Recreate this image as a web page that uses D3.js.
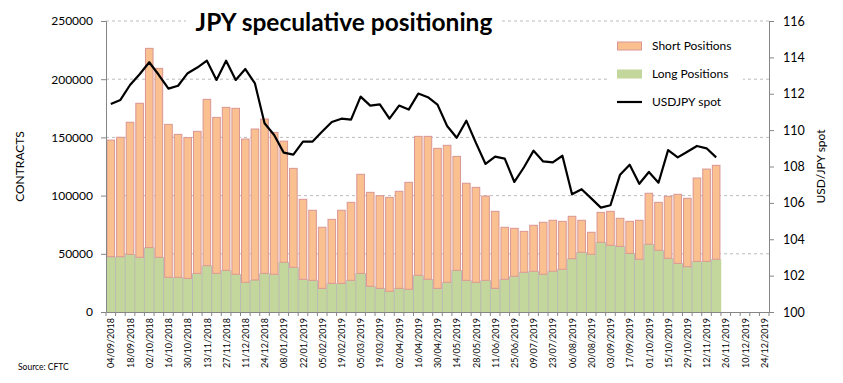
<!DOCTYPE html>
<html>
<head>
<meta charset="utf-8">
<script src="https://cdn.jsdelivr.net/npm/d3@7"></script>
<style>
  body { margin: 0; background: #fff; }
  text { font-family: Lato, "Open Sans", sans-serif; }
</style>
</head>
<body>
<div id="chart"></div>
<script>
// CONSTANTS
const width = 843, height = 383;
const margin = { top: 21, right: 74, bottom: 71, left: 106 };

// DATA - weekly COT report dates (axis runs to end of 2019)
const dates = [
  "04/09/2018","11/09/2018","18/09/2018","25/09/2018","02/10/2018","09/10/2018","16/10/2018","23/10/2018",
  "30/10/2018","06/11/2018","13/11/2018","20/11/2018","27/11/2018","04/12/2018","11/12/2018","18/12/2018",
  "24/12/2018","31/12/2018","08/01/2019","15/01/2019","22/01/2019","29/01/2019","05/02/2019","12/02/2019",
  "19/02/2019","26/02/2019","05/03/2019","12/03/2019","19/03/2019","26/03/2019","02/04/2019","09/04/2019",
  "16/04/2019","23/04/2019","30/04/2019","07/05/2019","14/05/2019","21/05/2019","28/05/2019","04/06/2019",
  "11/06/2019","18/06/2019","25/06/2019","02/07/2019","09/07/2019","16/07/2019","23/07/2019","30/07/2019",
  "06/08/2019","13/08/2019","20/08/2019","27/08/2019","03/09/2019","10/09/2019","17/09/2019","24/09/2019",
  "01/10/2019","08/10/2019","15/10/2019","22/10/2019","29/10/2019","05/11/2019","12/11/2019","19/11/2019",
  "26/11/2019","03/12/2019","10/12/2019","17/12/2019","24/12/2019"
];

const longPositions = [
  47500,47500,49500,47000,55300,47000,29800,29800,28900,33200,39800,33200,35800,32400,25500,27500,
  33200,32400,42700,38400,28100,27200,20300,24600,24600,27200,33200,22100,20300,17800,20300,19500,
  31500,28100,20300,25500,35800,27200,25500,27200,20300,28100,30700,34100,35000,32400,35000,36700,
  45800,51300,49600,59900,57300,56400,50400,45300,58200,53000,46100,41800,38900,43500,43500,45300
];

const shortPositions = [
  100200,102600,113500,132300,171200,162300,131400,122800,120900,122000,142900,134000,140000,142600,123100,129700,
  132600,121900,104100,85000,68700,60200,52500,55000,62800,67000,85100,80700,79600,80700,83400,91900,
  119400,122800,120300,117700,97900,83400,81600,72400,66200,44700,41200,35200,39500,44700,43800,41200,
  36400,27500,18900,25700,29200,24100,27500,33500,43800,41200,53300,59300,58800,71600,79300,80700
];

const usdjpySpot = [
  111.44,111.66,112.48,113.07,113.73,113.03,112.28,112.44,113.13,113.44,113.82,112.76,113.82,112.76,113.36,112.57,
  110.38,109.73,108.76,108.65,109.37,109.37,109.92,110.45,110.63,110.58,111.84,111.35,111.42,110.63,111.35,111.13,
  112.01,111.81,111.40,110.23,109.58,110.52,109.30,108.14,108.54,108.43,107.15,107.96,108.87,108.28,108.23,108.59,
  106.47,106.75,106.25,105.74,105.87,107.55,108.10,107.05,107.70,107.11,108.90,108.50,108.81,109.13,109.00,108.50
];

const leftTicks = [0, 50000, 100000, 150000, 200000, 250000];
const rightTicks = [100, 102, 104, 106, 108, 110, 112, 114, 116];
const legendItems = ["Short Positions", "Long Positions", "USDJPY spot"];

const rows = longPositions.map((l, i) => ({
  date: dates[i], long: l, short: shortPositions[i], spot: usdjpySpot[i]
}));

// SCALES
const x = d3.scaleBand().domain(dates).range([margin.left, width - margin.right]).padding(0);
const yL = d3.scaleLinear().domain([0, 250000]).range([height - margin.bottom, margin.top]);
const yR = d3.scaleLinear().domain([100, 116]).range([height - margin.bottom, margin.top]);
const bw = x.bandwidth();

const svg = d3.select("#chart").append("svg")
  .attr("width", width)
  .attr("height", height);

// gridlines
svg.append("g")
  .selectAll("line")
  .data(leftTicks.filter(d => d > 0))
  .join("line")
  .attr("x1", margin.left).attr("x2", width - margin.right)
  .attr("y1", d => yL(d)).attr("y2", d => yL(d))
  .attr("stroke", "#bcbcbc")
  .attr("stroke-dasharray", "3,3");

// long positions - columns with no gap
svg.append("g")
  .selectAll("rect")
  .data(rows)
  .join("rect")
  .attr("x", d => x(d.date))
  .attr("width", bw + 0.3)
  .attr("y", d => yL(d.long))
  .attr("height", d => yL(0) - yL(d.long))
  .attr("fill", "#c3d69b");

// light borders between green columns
svg.append("g")
  .selectAll("line")
  .data(rows.slice(1))
  .join("line")
  .attr("x1", d => x(d.date)).attr("x2", d => x(d.date))
  .attr("y1", yL(0))
  .attr("y2", (d, i) => yL(Math.max(d.long, rows[i].long)))
  .attr("stroke", "#b9bcb2")
  .attr("stroke-width", 1);

// short positions - floating bars on top of longs
svg.append("g")
  .selectAll("rect")
  .data(rows)
  .join("rect")
  .attr("x", d => x(d.date) + 1)
  .attr("width", bw - 2)
  .attr("y", d => yL(d.long + d.short))
  .attr("height", d => yL(d.long) - yL(d.long + d.short))
  .attr("fill", "#fac090")
  .attr("stroke", "#d99694")
  .attr("stroke-width", 1);

// spot line
const line = d3.line()
  .x(d => x(d.date) + bw / 2)
  .y(d => yR(d.spot));

svg.append("path")
  .datum(rows)
  .attr("d", line)
  .attr("fill", "none")
  .attr("stroke", "#000")
  .attr("stroke-width", 2.2)
  .attr("stroke-linejoin", "round");

// AXES
const axisColor = "#868686";

const gL = svg.append("g")
  .attr("transform", `translate(${margin.left},0)`)
  .call(d3.axisLeft(yL).tickValues(leftTicks).tickFormat(d3.format("d")).tickSize(5).tickPadding(8));

const gR = svg.append("g")
  .attr("transform", `translate(${width - margin.right},0)`)
  .call(d3.axisRight(yR).tickValues(rightTicks).tickSize(5).tickPadding(9));

const gB = svg.append("g")
  .attr("transform", `translate(0,${height - margin.bottom})`)
  .call(d3.axisBottom(x).tickValues(dates.filter((d, i) => i % 2 === 0)).tickSize(0));

gB.selectAll("text")
  .attr("transform", "rotate(-90)")
  .attr("x", -6)
  .attr("y", 0)
  .attr("dy", "0.4em")
  .style("text-anchor", "end")
  .style("font-size", "9px");

// tick marks between categories
gB.append("g")
  .selectAll("line")
  .data(dates.concat(["end"]))
  .join("line")
  .attr("x1", (d, i) => margin.left + i * bw)
  .attr("x2", (d, i) => margin.left + i * bw)
  .attr("y1", 0).attr("y2", 4)
  .attr("stroke", axisColor);

[gL, gR, gB].forEach(g => {
  g.select(".domain").attr("stroke", axisColor);
  g.selectAll(".tick line").attr("stroke", axisColor);
  g.selectAll("text").attr("fill", "#000");
});
gL.selectAll("text").style("font-size", "12px");
gR.selectAll("text").style("font-size", "12.5px");

// axis titles
svg.append("text")
  .attr("transform", `translate(24,${(margin.top + height - margin.bottom) / 2}) rotate(-90)`)
  .attr("text-anchor", "middle")
  .style("font-size", "12px")
  .text("CONTRACTS");

svg.append("text")
  .attr("transform", `translate(825,${(margin.top + height - margin.bottom) / 2}) rotate(-90)`)
  .attr("text-anchor", "middle")
  .style("font-size", "12px")
  .text("USD/JPY spot");

// TITLE
svg.append("rect")
  .attr("x", 186).attr("y", 8).attr("width", 316).attr("height", 30)
  .attr("fill", "#fff");
svg.append("text")
  .attr("x", 344).attr("y", 31)
  .attr("text-anchor", "middle")
  .style("font-size", "24.5px")
  .style("font-weight", "bold")
  .text("JPY speculative positioning");

// LEGEND
const legend = svg.append("g");
legend.append("rect")
  .attr("x", 607).attr("y", 30).attr("width", 136).attr("height", 82)
  .attr("fill", "#fff");

const li = legend.selectAll("g.item")
  .data(legendItems)
  .join("g")
  .attr("class", "item")
  .attr("transform", (d, i) => `translate(617,${46 + i * 28})`);

li.each(function (d, i) {
  const g = d3.select(this);
  if (i === 0) {
    g.append("rect").attr("x", 0.5).attr("y", -4).attr("width", 24).attr("height", 8)
      .attr("fill", "#fac090").attr("stroke", "#d99694");
  } else if (i === 1) {
    g.append("rect").attr("x", 0).attr("y", -4.5).attr("width", 25).attr("height", 9)
      .attr("fill", "#c3d69b");
  } else {
    g.append("line").attr("x1", 0).attr("x2", 25).attr("y1", 0).attr("y2", 0)
      .attr("stroke", "#000").attr("stroke-width", 2.2);
  }
  g.append("text")
    .attr("x", 35).attr("y", 0).attr("dy", "0.35em")
    .style("font-size", "12px")
    .text(d);
});

// SOURCE
svg.append("text")
  .attr("x", 18).attr("y", 370)
  .style("font-size", "8.5px")
  .text("Source: CFTC");
</script>
</body>
</html>
